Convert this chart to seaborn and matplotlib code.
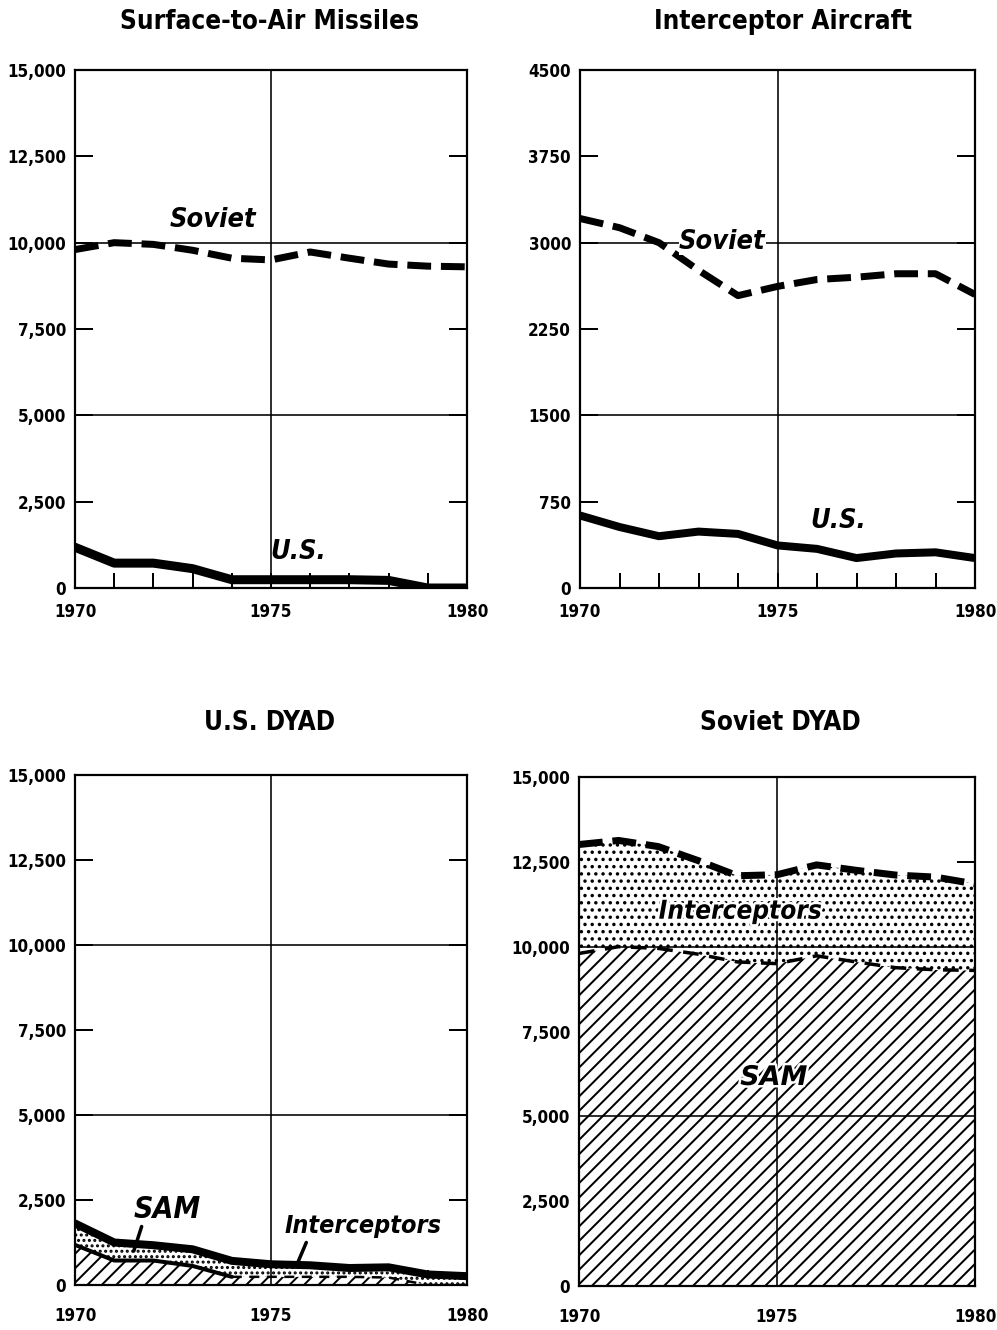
import pandas as pd
import seaborn as sns
import matplotlib.pyplot as plt
from matplotlib import patheffects as pe

# data
years = list(range(1970, 1981))
sam_soviet = [9800, 10000, 9950, 9780, 9550, 9500, 9730, 9550, 9380, 9320, 9300]
sam_us = [1180, 720, 720, 560, 240, 240, 240, 240, 220, 0, 0]
int_soviet = [3210, 3130, 3000, 2760, 2540, 2620, 2680, 2700, 2730, 2730, 2550]
int_us = [630, 530, 450, 490, 470, 370, 340, 260, 300, 310, 260]

sam_ticks = [0, 2500, 5000, 7500, 10000, 12500, 15000]
sam_labels = ['0', '2,500', '5,000', '7,500', '10,000', '12,500', '15,000']
int_ticks = [0, 750, 1500, 2250, 3000, 3750, 4500]
int_labels = ['0', '750', '1500', '2250', '3000', '3750', '4500']

df = pd.DataFrame({'year': years, 'sam_soviet': sam_soviet, 'sam_us': sam_us,
                   'int_soviet': int_soviet, 'int_us': int_us})
df['tot_soviet'] = df['sam_soviet'] + df['int_soviet']
df['tot_us'] = df['sam_us'] + df['int_us']

sns.set_style('white')
plt.rcParams['font.family'] = ['DejaVu Sans']
plt.rcParams['font.stretch'] = 'condensed'
plt.rcParams['text.color'] = 'black'
plt.rcParams['xtick.color'] = 'black'
plt.rcParams['ytick.color'] = 'black'
plt.rcParams['hatch.linewidth'] = 1.1

DPI = 130
PT = 72 / DPI  # pixel -> point
W, H = 997, 1330
fig = plt.figure(figsize=(W / DPI, H / DPI), dpi=DPI)


def box(l, t, r, b):
    return [l / W, 1 - b / H, (r - l) / W, (b - t) / H]


def setup(ax, ticks, labels, xpad):
    ax.set_xlim(1970, 1980)
    ax.set_ylim(ticks[0], ticks[-1])
    ax.set_yticks(ticks)
    ax.set_yticklabels(labels)
    ax.set_xticks(years)
    ax.set_xticklabels(['1970', '', '', '', '', '1975', '', '', '', '', '1980'])
    ax.tick_params(axis='y', direction='in', length=18 * PT, width=2 * PT,
                   left=True, right=True, pad=9 * PT, labelsize=17 * PT)
    ax.tick_params(axis='x', direction='in', length=15 * PT, width=2 * PT,
                   bottom=True, pad=xpad * PT, labelsize=17 * PT)
    for lab in ax.get_xticklabels() + ax.get_yticklabels():
        lab.set_fontweight('bold')
    for s in ax.spines.values():
        s.set_visible(True)
        s.set_linewidth(2.2 * PT)
        s.set_color('black')
        s.set_zorder(5)
    ax.axvline(1975, color='black', lw=1.6 * PT, zorder=3)
    for v in ticks[2::2][:-1]:
        ax.axhline(v, color='black', lw=1.6 * PT, zorder=3)
    ax.set_xlabel('')
    ax.set_ylabel('')


def label(ax, x, y, s, size, halo=False, **kw):
    t = ax.text(x, y, s, ha='center', va='center', fontsize=size * PT, fontweight='bold',
                style='italic', zorder=6, **kw)
    if halo:
        t.set_path_effects([pe.withStroke(linewidth=5 * PT, foreground='white')])
    return t


dash_big = (0, (3.4, 1.4))
title_kw = dict(ha='center', va='center', fontsize=26 * PT, fontweight='bold')

# ---- Surface-to-Air Missiles
ax1 = fig.add_axes(box(75, 70, 467, 588))
sns.lineplot(data=df, x='year', y='sam_soviet', ax=ax1, color='black',
             linewidth=7 * PT, linestyle=dash_big, zorder=4)
sns.lineplot(data=df, x='year', y='sam_us', ax=ax1, color='black',
             linewidth=9 * PT, zorder=4)
setup(ax1, sam_ticks, sam_labels, 15)
label(ax1, 1973.52, 10650, 'Soviet', 27)
label(ax1, 1975.69, 1050, 'U.S.', 27)
fig.text(270 / W, 1 - 22 / H, 'Surface-to-Air Missiles', **title_kw)

# ---- Interceptor Aircraft
ax2 = fig.add_axes(box(580, 70, 975, 588))
sns.lineplot(data=df, x='year', y='int_soviet', ax=ax2, color='black',
             linewidth=7 * PT, linestyle=dash_big, zorder=4)
sns.lineplot(data=df, x='year', y='int_us', ax=ax2, color='black',
             linewidth=8 * PT, zorder=4)
setup(ax2, int_ticks, int_labels, 15)
label(ax2, 1973.6, 3010, 'Soviet', 27,
      bbox=dict(facecolor='white', edgecolor='none', pad=0))
label(ax2, 1976.53, 580, 'U.S.', 27)
fig.text(783 / W, 1 - 22 / H, 'Interceptor Aircraft', **title_kw)

# ---- U.S. DYAD
ax3 = fig.add_axes(box(75, 775, 467, 1285))
ax3.fill_between(df['year'], 0, df['sam_us'], facecolor='white', edgecolor='black',
                 hatch='///', linewidth=0, zorder=1)
ax3.fill_between(df['year'], df['sam_us'], df['tot_us'], facecolor='white',
                 edgecolor='black', hatch='....', linewidth=0, zorder=1)
sns.lineplot(data=df[df['year'] <= 1974], x='year', y='sam_us', ax=ax3, color='black',
             linewidth=4 * PT, zorder=4)
sns.lineplot(data=df[df['year'] >= 1974], x='year', y='sam_us', ax=ax3, color='black',
             linewidth=2.5 * PT, linestyle=(0, (4, 3)), zorder=4)
sns.lineplot(data=df, x='year', y='tot_us', ax=ax3, color='black',
             linewidth=8 * PT, zorder=4)
setup(ax3, sam_ticks, sam_labels, 22)
label(ax3, 1972.35, 2230, 'SAM', 30)
label(ax3, 1977.35, 1730, 'Interceptors', 25)
ax3.plot([1971.7, 1971.5], [1720, 1000], color='black', lw=3.5 * PT, zorder=6)
ax3.plot([1975.9, 1975.68], [1250, 650], color='black', lw=3.5 * PT, zorder=6)
fig.text(270 / W, 1 - 723 / H, 'U.S. DYAD', **title_kw)

# ---- Soviet DYAD
ax4 = fig.add_axes(box(579, 777, 975, 1286))
ax4.fill_between(df['year'], 0, df['sam_soviet'], facecolor='white', edgecolor='black',
                 hatch='///', linewidth=0, zorder=1)
ax4.fill_between(df['year'], df['sam_soviet'], df['tot_soviet'], facecolor='white',
                 edgecolor='black', hatch='...', linewidth=0, zorder=1)
sns.lineplot(data=df, x='year', y='sam_soviet', ax=ax4, color='black',
             linewidth=3.5 * PT, linestyle=(0, (4.5, 3)), zorder=4)
sns.lineplot(data=df, x='year', y='tot_soviet', ax=ax4, color='black',
             linewidth=7 * PT, linestyle=dash_big, zorder=4)
setup(ax4, sam_ticks, sam_labels, 22)
label(ax4, 1974.07, 11030, 'Interceptors', 26, halo=True)
label(ax4, 1974.92, 6130, 'SAM', 27, halo=True, stretch='normal')
fig.text(780 / W, 1 - 723 / H, 'Soviet DYAD', **title_kw)

fig.savefig('out.png', dpi=DPI, facecolor='white')
